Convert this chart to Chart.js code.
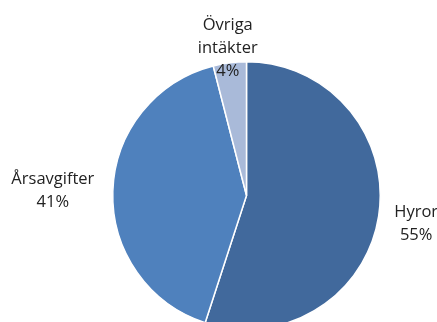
<!DOCTYPE html>
<html>
<head>
<meta charset="utf-8">
<script src="https://cdn.jsdelivr.net/npm/chart.js@4"></script>
<style>
html,body{margin:0;padding:0;background:#fff;overflow:hidden;}
#wrap{position:relative;width:437px;height:340px;}
</style>
</head>
<body>
<div id="wrap"><canvas id="c" width="437" height="340"></canvas></div>
<script>
const categories = ["Hyror", "Årsavgifter", "Övriga intäkter"];
const labelLines = [["Hyror"], ["Årsavgifter"], ["Övriga", "intäkter"]];
const values = [55, 41, 4];
const percentLabels = ["55%", "41%", "4%"];
const colors = ["#41699C", "#4F81BD", "#A9BAD9"];
const labelExtra = [38, 60, 16];

const labelPlugin = {
  id: 'outLabels',
  afterDatasetsDraw(chart) {
    const ctx = chart.ctx;
    const meta = chart.getDatasetMeta(0);
    ctx.save();
    ctx.fillStyle = '#222222';
    ctx.font = '16.5px "Open Sans", sans-serif';
    ctx.textAlign = 'center';
    ctx.textBaseline = 'middle';
    const lh = 23;
    meta.data.forEach((arc, i) => {
      const p = arc.getProps(['x','y','startAngle','endAngle','outerRadius'], true);
      const mid = (p.startAngle + p.endAngle) / 2;
      const d = p.outerRadius + labelExtra[i];
      const cx = p.x + Math.cos(mid) * d;
      const cy = p.y + Math.sin(mid) * d + 1;
      const lines = labelLines[i].concat([percentLabels[i]]);
      const y0 = cy - (lines.length - 1) * lh / 2;
      lines.forEach((t, k) => ctx.fillText(t, cx, y0 + k * lh));
    });
    ctx.restore();
  }
};

new Chart(document.getElementById('c'), {
  type: 'pie',
  data: {
    labels: categories,
    datasets: [{
      data: values,
      backgroundColor: colors,
      borderColor: '#ffffff',
      borderWidth: 1.5
    }]
  },
  options: {
    responsive: false,
    animation: false,
    layout: { padding: { top: 61, left: 112, right: 56, bottom: 10 } },
    plugins: { legend: { display: false }, tooltip: { enabled: false } }
  },
  plugins: [labelPlugin]
});
</script>
</body>
</html>
